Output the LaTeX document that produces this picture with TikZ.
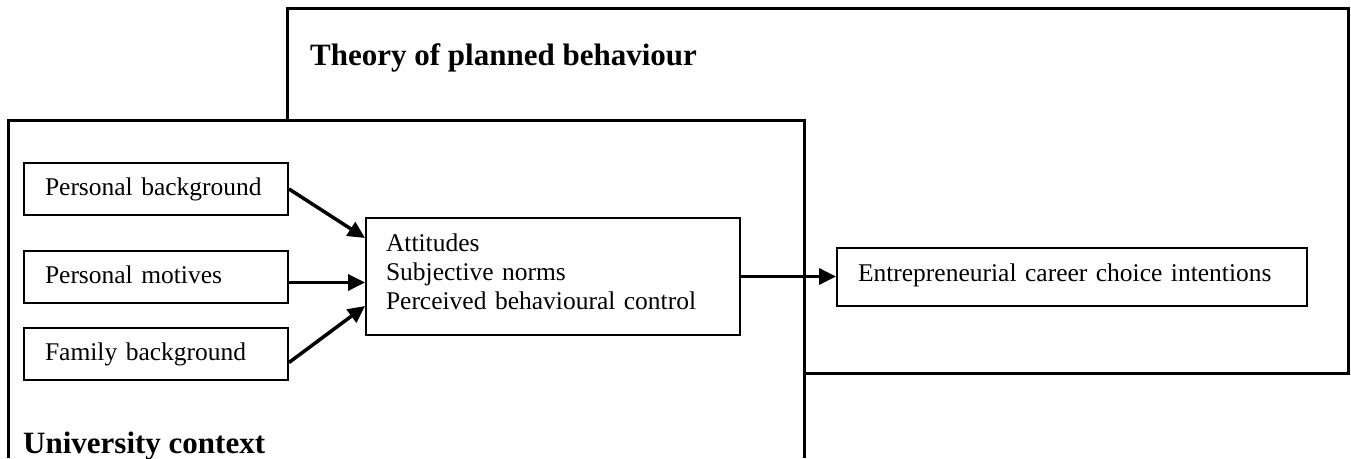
\documentclass[tikz,border=0pt]{standalone}
\usepackage{fontspec}
\setmainfont{Liberation Serif}
\usetikzlibrary{arrows.meta,calc}
\begin{document}
\begin{tikzpicture}[x=1pt,y=-1pt,
  outer/.style={line width=3pt},
  smallbox/.style={draw,line width=2pt,anchor=west,text width=222pt,inner xsep=21pt,
    minimum height=52pt,align=left,text height=18pt,text depth=5pt,
    font=\fontsize{25.5pt}{30pt}\selectfont},
  midbox/.style={draw,line width=2pt,text width=334pt,inner xsep=20pt,
    minimum height=117pt,align=left,
    font=\fontsize{25.5pt}{29pt}\selectfont},
  entbox/.style={draw,line width=2pt,text width=428pt,inner xsep=21pt,
    minimum height=58pt,align=left,text height=18pt,text depth=10pt,
    font=\fontsize{25.5pt}{30pt}\selectfont},
  title/.style={anchor=base west,inner sep=0pt,font=\fontsize{31pt}{36pt}\selectfont\bfseries},
  arr/.style={line width=3.5pt,-{Triangle[length=17pt,width=16pt]}}]
\useasboundingbox (0,0) rectangle (1351,458);
% Theory of planned behaviour frame (behind)
\draw[outer] (287,120) -- (287,8) -- (1348,8) -- (1348,373) -- (804,373);
% University context frame
\draw[outer] (8,458) -- (8,120) -- (804,120) -- (804,458);
\node[title] (tpb) at (310,65) {Theory of planned behaviour};
\node[title] (uc) at (23,453) {University context};
% boxes
\node[smallbox] (pb) at (23,189) {Personal background};
\node[smallbox] (pm) at (23,276.5) {Personal motives};
\node[smallbox] (fb) at (23,353.5) {Family background};
\node[midbox] (mid) at (553,276.5) {Attitudes\\Subjective norms\\Perceived behavioural control\rule[-10pt]{0pt}{10pt}};
\node[entbox] (ent) at (1072,277) {Entrepreneurial career choice intentions};
% arrows
\draw[arr] (pb.east) -- ($(mid.north west)+(0,21)$);
\draw[arr] ([yshift=-6pt]pm.east) -- ([yshift=-6pt]pm.east -| mid.west);
\draw[arr] ([yshift=-9pt]fb.east) -- ($(mid.south west)+(0,-30)$);
\draw[arr] (mid.east) -- (mid.east -| ent.west);
\end{tikzpicture}
\end{document}
